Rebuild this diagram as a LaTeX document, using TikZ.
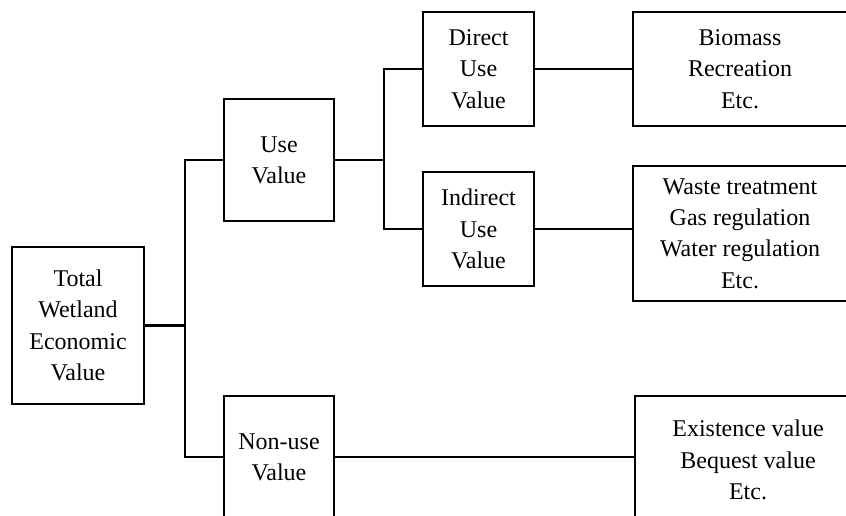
\documentclass[tikz,border=0pt]{standalone}
\usepackage{fontspec}
\setmainfont{Liberation Serif}
\usepackage{tikz}
\usetikzlibrary{positioning}
\tikzset{box/.style={draw, line width=1.7pt, align=center, inner sep=0pt,
  font=\fontsize{18}{23.5}\selectfont},
  wire/.style={line width=1.7pt}}

\begin{document}
\begin{tikzpicture}[x=0.75pt, y=-0.75pt]
 \useasboundingbox (0,0) rectangle (846,516);

 \node[box, minimum width=99pt, minimum height=117.75pt] (total) at (78,325.5) {Total\\Wetland\\Economic\\Value};

 \node[box, minimum width=82.5pt, minimum height=91.5pt] (use) at (279,160) {Use\\Value};
 \node[box, minimum width=82.5pt, minimum height=91.5pt] (nonuse) at (279,457) {Non-use\\Value};

 \node[box, minimum width=83.25pt, minimum height=85.5pt] (direct) at (478.5,69) {Direct\\Use\\Value};
 \node[box, minimum width=83.25pt, minimum height=85.5pt] (indirect) at (478.5,229) {Indirect\\Use\\Value};

 \node[box, minimum width=160.5pt, minimum height=85.5pt] (biomass) at (740,69) {Biomass\\Recreation\\Etc.};
 \node[box, minimum width=160.5pt, minimum height=101.25pt] (waste) at (740,233.5) {Waste treatment\\Gas regulation\\Water regulation\\Etc.};
 \node[box, minimum width=169.5pt, minimum height=96pt] (exist) at (748,460) {Existence value\\Bequest value\\Etc.};

 \coordinate (j1) at (185,325.5);
 \coordinate (j2) at (384,160);

 \draw[wire] (total.east) -- (j1);
 \draw[wire] (use.west) -| (j1) |- (nonuse.west);
 \draw[wire] (use.east) -- (j2);
 \draw[wire] (direct.west) -| (j2) |- (indirect.west);

 \draw[wire] (direct.east) -- (direct.east -| biomass.west);
 \draw[wire] (indirect.east) -- (indirect.east -| waste.west);
 \draw[wire] (nonuse.east) -- (nonuse.east -| exist.west);

\end{tikzpicture}
\end{document}
